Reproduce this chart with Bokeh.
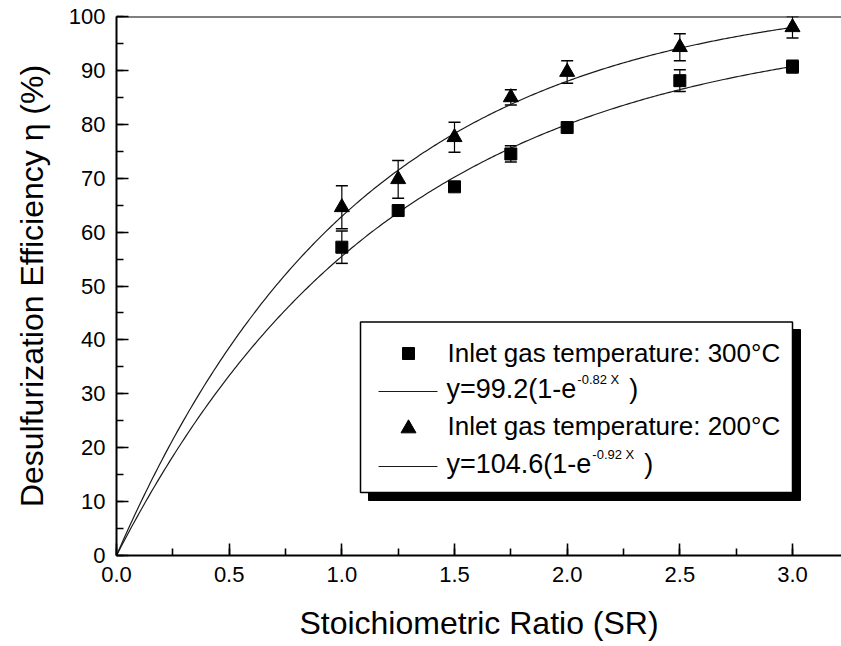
import numpy as np
from bokeh.plotting import figure
from bokeh.models import (ColumnDataSource, Whisker, TeeHead, SingleIntervalTicker,
                          NumeralTickFormatter, Span, Range1d)
from bokeh.embed import file_html
from bokeh.resources import INLINE
from bokeh.core.properties import value

# ---------------- data ----------------
sr = [1.0, 1.25, 1.5, 1.75, 2.0, 2.5, 3.0]
eta_300 = [57.2, 64.0, 68.4, 74.5, 79.4, 88.1, 90.7]
err_300 = [3.0, 0.0, 0.0, 1.5, 0.0, 2.0, 1.2]
eta_200 = [64.6, 69.8, 77.6, 85.0, 89.7, 94.3, 98.0]
err_200 = [4.0, 3.5, 2.8, 1.4, 2.1, 2.5, 2.0]
fit_A = [99.2, 104.6]          # y = A(1 - e^(-k X))
fit_k = [0.82, 0.92]
fit_x_max = 3.0
series_labels = ["Inlet gas temperature: 300°C", "Inlet gas temperature: 200°C"]
fit_main = ["y=99.2(1-e", "y=104.6(1-e"]
fit_sup = ["-0.82 X", "-0.92 X"]
x_title = "Stoichiometric Ratio (SR)"
y_title = "Desulfurization Efficiency η (%)"

# ---------------- layout ----------------
W, H = 841, 646
FL, FR, FT, FB = 116, 841, 16, 555
XEND = 3.0 * (FR - FL) / (792 - FL)
FONT = "Liberation Sans"

def X(px):
    return (px - FL) / (FR - FL) * XEND

def Y(py):
    return (FB - py) / (FB - FT) * 100.0

# approximate Arial / Liberation Sans advance widths (em)
CW = {'y': .5, '=': .584, '.': .278, '(': .333, ')': .333, '-': .333, 'e': .556,
      ' ': .278, 'X': .667}
def tw(s, size):
    return sum(CW.get(c, .556) for c in s) * size

BASE_FIX = 0.35  # compensation of rendered baseline offset (fraction of font size)
def base_y(py, size):
    return Y(py - BASE_FIX * size)

p = figure(width=W, height=H, x_range=Range1d(0, XEND), y_range=Range1d(0, 100),
           output_backend="svg", toolbar_location=None,
           min_border_left=FL, min_border_right=0, min_border_top=FT,
           min_border_bottom=H - FB)
p.outline_line_color = None
p.grid.visible = False
p.background_fill_color = "white"
p.border_fill_color = "white"

p.xaxis.ticker = SingleIntervalTicker(interval=0.5, num_minor_ticks=2)
p.xaxis.formatter = NumeralTickFormatter(format="0.0")
p.yaxis.ticker = SingleIntervalTicker(interval=10, num_minor_ticks=2)

for ax in (p.xaxis, p.yaxis):
    ax.axis_line_width = 2
    ax.axis_line_color = "black"
    ax.major_tick_in = 12
    ax.major_tick_out = 0
    ax.minor_tick_in = 7
    ax.minor_tick_out = 0
    ax.major_tick_line_width = 1.6
    ax.minor_tick_line_width = 1.6
    ax.major_tick_line_color = "black"
    ax.minor_tick_line_color = "black"
    ax.major_label_text_font = FONT
    ax.major_label_text_font_size = "22px"
    ax.major_label_text_color = "black"
    ax.axis_label_text_font = FONT
    ax.axis_label_text_font_size = "32px"
    ax.axis_label_text_font_style = "normal"
    ax.axis_label_text_color = "black"
    ax.major_label_standoff = 11

p.xaxis.axis_label = x_title
p.yaxis.axis_label = y_title
p.xaxis.axis_label_standoff = 20
p.yaxis.axis_label_standoff = 16

# top frame line
p.add_layout(Span(location=100, dimension="width", line_color="black", line_width=2))

# fitted curves
for A, k in zip(fit_A, fit_k):
    xs = np.linspace(0, fit_x_max, 300)
    p.line(xs, A * (1 - np.exp(-k * xs)), line_color="#1a1a1a", line_width=1.2)

# error bars
def add_whiskers(vals, errs):
    xs = [x for x, e in zip(sr, errs) if e > 0]
    up = [v + e for v, e in zip(vals, errs) if e > 0]
    lo = [v - e for v, e in zip(vals, errs) if e > 0]
    src = ColumnDataSource(dict(x=xs, upper=up, lower=lo))
    p.add_layout(Whisker(base="x", upper="upper", lower="lower", source=src,
                         line_color="black", line_width=1.2,
                         upper_head=TeeHead(size=12, line_width=1.5, line_color="black"),
                         lower_head=TeeHead(size=12, line_width=1.5, line_color="black")))

add_whiskers(eta_300, err_300)
add_whiskers(eta_200, err_200)

p.scatter(sr, eta_300, marker="square", size=12, fill_color="black", line_color="black")
p.scatter(sr, eta_200, marker="triangle", size=15, fill_color="black", line_color="black")

# ---------------- legend (custom, with shadow) ----------------
p.quad(left=X(368), right=X(800), top=Y(329), bottom=Y(500),
       fill_color="black", line_color="black")
p.quad(left=X(360), right=X(792), top=Y(321.5), bottom=Y(492),
       fill_color="white", line_color="black", line_width=1.5)

p.scatter([X(408)], [Y(353)], marker="square", size=12, fill_color="black", line_color="black")
p.scatter([X(408)], [Y(428)], marker="triangle", size=15, fill_color="black", line_color="black")
for ly in (391, 466):
    p.line([X(378), X(437)], [Y(ly), Y(ly)], line_color="#1a1a1a", line_width=1.2)

LF = 26
FF = 27
SF = 13
text_kw = dict(text_font=value(FONT), text_baseline="alphabetic", text_align="left",
               text_color="black")
for lab, bl in zip(series_labels, (361.5, 435.0)):
    p.text([X(447)], [base_y(bl, LF)], text=[lab], text_font_size=f"{LF}px", **text_kw)
for i, (m, s) in enumerate(zip(fit_main, fit_sup)):
    bl = 398.3 + i * 75.0
    x0 = 446
    p.text([X(x0)], [base_y(bl, FF)], text=[m], text_font_size=f"{FF}px", **text_kw)
    xs_ = x0 + tw(m, FF) + 1
    p.text([X(xs_)], [base_y(bl - 15, SF)], text=[s], text_font_size=f"{SF}px", **text_kw)
    xp = xs_ + tw(s, SF) + 10
    p.text([X(xp)], [base_y(bl, FF)], text=[")"], text_font_size=f"{FF}px", **text_kw)

open("out.html", "w").write(file_html(p, INLINE))
